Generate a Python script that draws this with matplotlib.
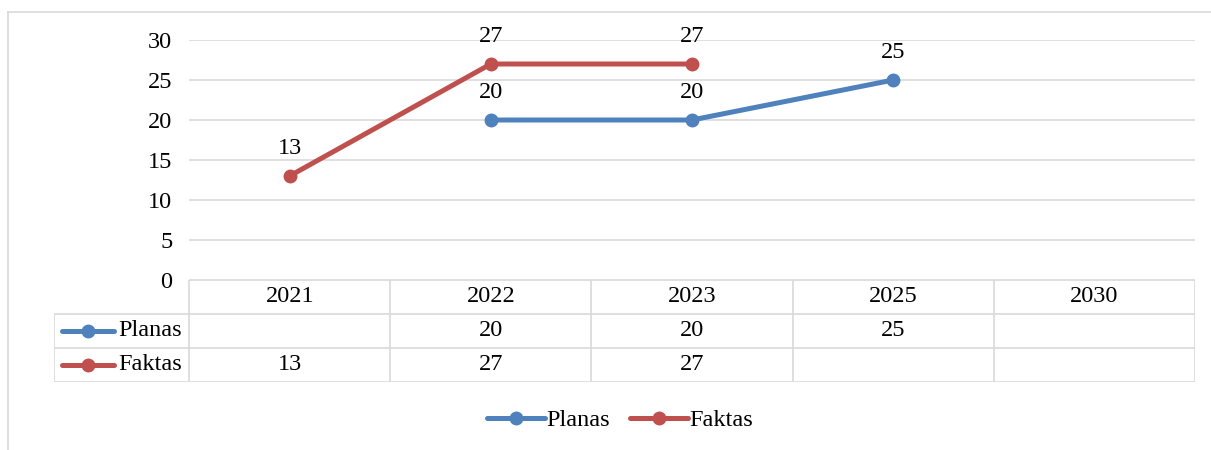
import numpy as np
import matplotlib.pyplot as plt
from matplotlib.lines import Line2D

plt.rcParams['font.family'] = ['Liberation Serif', 'DejaVu Serif']
plt.rcParams['font.size'] = 17.5

years = ['2021', '2022', '2023', '2025', '2030']
planas = [None, 20, 20, 25, None]
faktas = [13, 27, 27, None, None]
series_names = ['Planas', 'Faktas']
colors = ['#4f81bd', '#c0504d']
yticks = [0, 5, 10, 15, 20, 25, 30]

W, H = 1211, 450
grid_c = '#d9d9d9'
fs = 17.5

fig = plt.figure(figsize=(W / 100, H / 100), dpi=100)

# outer chart frame (left and top edges visible)
fig.add_artist(Line2D([8 / W, 8 / W], [0, (H - 12) / H], color=grid_c, lw=1.2))
fig.add_artist(Line2D([8 / W, 1], [(H - 12) / H, (H - 12) / H], color=grid_c, lw=1.2))

# main plot area
ax = fig.add_axes([189 / W, (H - 280) / H, (1195 - 189) / W, 240 / H])
all_series = [planas, faktas]
for vals, name, c in zip(all_series, series_names, colors):
    xs = [i for i, v in enumerate(vals) if v is not None]
    ys = [v for v in vals if v is not None]
    ax.plot(xs, ys, color=c, lw=3.6, marker='o', markersize=9, label=name,
            solid_capstyle='round')
    for xi, yi in zip(xs, ys):
        ax.annotate(str(yi), (xi, yi), xytext=(0, 16), textcoords='offset points',
                    ha='center', va='baseline', fontsize=fs)

ax.set_xlim(-0.5, len(years) - 0.5)
ax.set_ylim(0, 30)
ax.set_yticks(yticks)
ax.set_xticks([])
ax.tick_params(axis='y', length=0, pad=12, labelsize=fs)
ax.grid(axis='y', color=grid_c, lw=1.2)
ax.set_axisbelow(True)
for s in ax.spines.values():
    s.set_visible(False)

# data table below the plot
tab = fig.add_axes([54 / W, (H - 382) / H, (1195 - 54) / W, 102 / H])
lab_w = (189 - 54) / 201
left = -0.5 - lab_w
n = len(years)
tab.set_xlim(left, n - 0.5)
tab.set_ylim(3, 0)
tab.axis('off')

# header row
for i, yr in enumerate(years):
    tab.text(i, 0.5, yr, ha='center', va='center', fontsize=fs)
# vertical lines
for i in range(n + 1):
    tab.plot([i - 0.5, i - 0.5], [0, 3], color=grid_c, lw=1.2)
tab.plot([left, left], [1, 3], color=grid_c, lw=1.2)
# horizontal lines
tab.plot([-0.5, n - 0.5], [0, 0], color=grid_c, lw=1.2)
for r in [1, 2, 3]:
    tab.plot([left, n - 0.5], [r, r], color=grid_c, lw=1.2)

px = lambda p: -0.5 + (p - 189) / 201
for r, (vals, name, c) in enumerate(zip(all_series, series_names, colors)):
    yc = r + 1.5
    tab.plot([px(62), px(114)], [yc, yc], color=c, lw=3.6, solid_capstyle='round')
    tab.plot([px(88)], [yc], marker='o', color=c, markersize=9)
    tab.text(px(118), yc, name, ha='left', va='center', fontsize=fs)
    for i, v in enumerate(vals):
        if v is not None:
            tab.text(i, yc, str(v), ha='center', va='center', fontsize=fs)

# legend at bottom
handles = [Line2D([], [], color=c, lw=3.6, marker='o', markersize=9,
                  solid_capstyle='round') for c in colors]
fig.legend(handles, series_names, loc='center', bbox_to_anchor=(620 / W, (H - 420) / H),
           ncol=2, frameon=False, handlelength=2.4, handletextpad=0.05,
           columnspacing=0.8, fontsize=fs)

fig.savefig('out.png', dpi=100)
